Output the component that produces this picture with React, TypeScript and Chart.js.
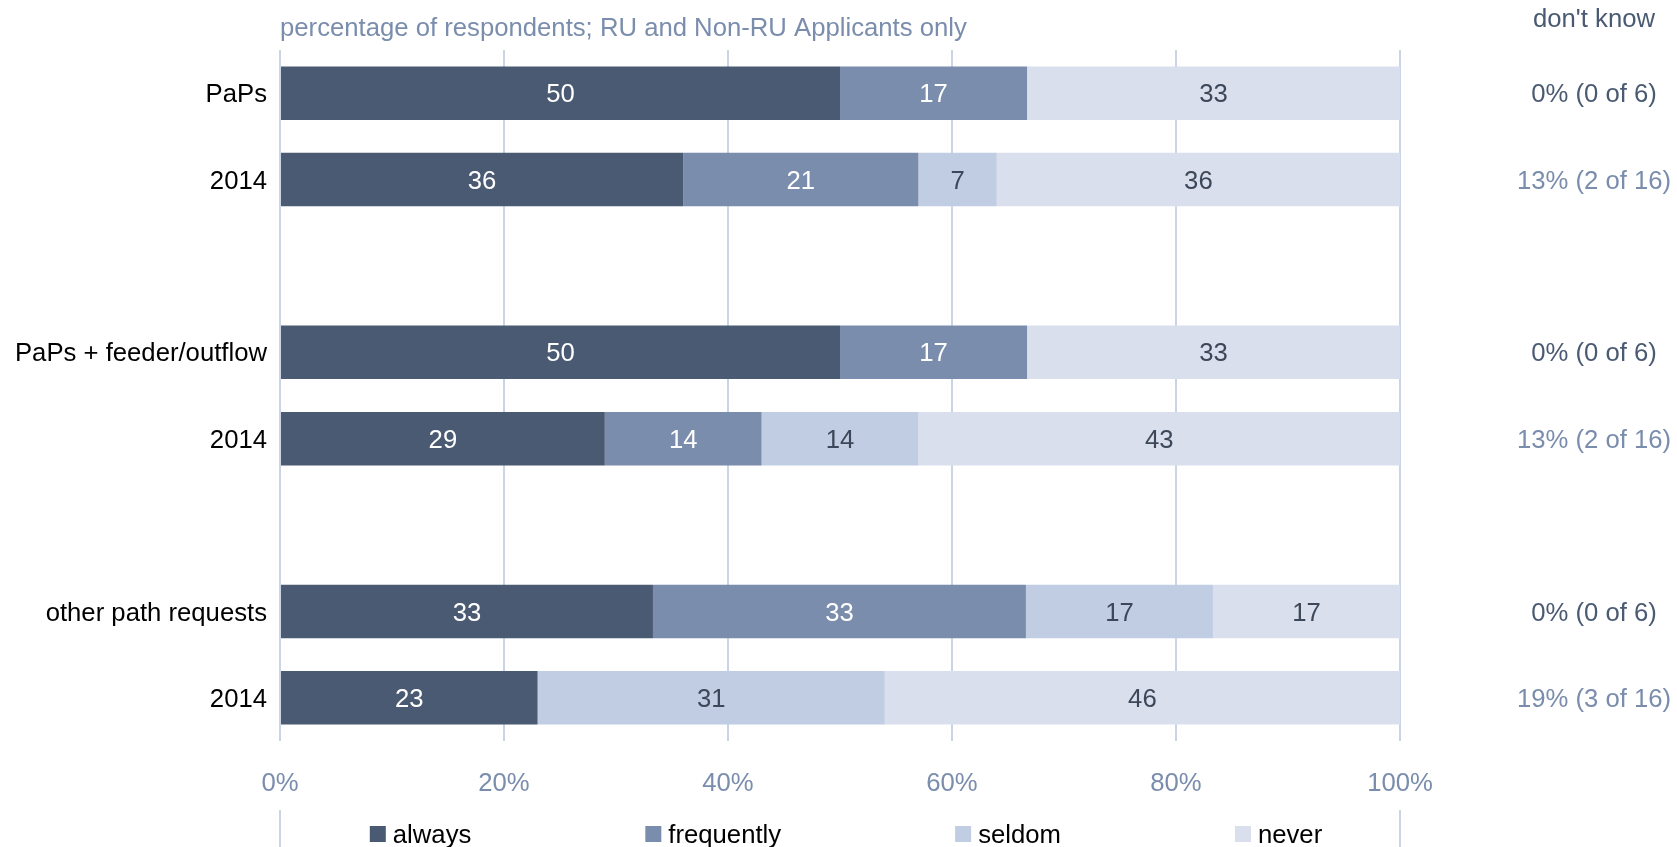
import React, { useEffect, useRef } from "react";
import { Chart, registerables } from "chart.js";

Chart.register(...registerables);

const categories = ["PaPs", "2014", "", "PaPs + feeder/outflow", "2014", "", "other path requests", "2014"];
const seriesNames = ["always", "frequently", "seldom", "never"];
const always = [50, 36, null, 50, 29, null, 33.3, 23];
const frequently = [16.7, 21, null, 16.7, 14, null, 33.3, 0];
const seldom = [0, 7, null, 0, 14, null, 16.7, 31];
const never = [33.3, 36, null, 33.3, 43, null, 16.7, 46];
const dontKnow = ["0% (0 of 6)", "13% (2 of 16)", "", "0% (0 of 6)", "13% (2 of 16)", "", "0% (0 of 6)", "19% (3 of 16)"];
const dontKnowIsPrior = [false, true, false, false, true, false, false, true];
const xTicks = [0, 20, 40, 60, 80, 100];
const titleText = "percentage of respondents; RU and Non-RU Applicants only";
const dontKnowTitle = "don't know";

const COLORS = ["#4a5a73", "#7a8dad", "#c0cde3", "#d9dfec"];
const DARK = "#4a5a73";
const MID = "#7a8dad";
const GRID = "#c9d4e7";
const FONT = "'Liberation Sans', Arial, sans-serif";
const FS = 25.7;

const overlay = {
  id: "overlay",
  afterDatasetsDraw(chart: any) {
    const ctx = chart.ctx;
    const area = chart.chartArea;
    const xs = chart.scales.x;
    const ys = chart.scales.y;
    ctx.save();
    ctx.font = `${FS}px ${FONT}`;
    ctx.textAlign = "center";
    ctx.textBaseline = "middle";
    // data labels
    chart.data.datasets.forEach((ds: any, i: number) => {
      const meta = chart.getDatasetMeta(i);
      meta.data.forEach((bar: any, j: number) => {
        const v = ds.data[j];
        if (!v) return;
        const p = bar.getProps(["x", "y", "base"], true);
        ctx.fillStyle = i < 2 ? "#ffffff" : "#3c4759";
        ctx.fillText(String(Math.round(v)), (p.x + p.base) / 2, p.y + 2);
      });
    });
    // category labels
    ctx.textAlign = "right";
    ctx.fillStyle = "#000000";
    (chart.data.labels as string[]).forEach((t, j) => {
      if (!t) return;
      ctx.fillText(t, area.left - 13, ys.getPixelForValue(j) + 2);
    });
    // don't know column
    ctx.textAlign = "center";
    const dkX = area.right + 194;
    ctx.fillStyle = DARK;
    ctx.fillText(dontKnowTitle, dkX, 20);
    dontKnow.forEach((t, j) => {
      if (!t) return;
      ctx.fillStyle = dontKnowIsPrior[j] ? MID : DARK;
      ctx.fillText(t, dkX, ys.getPixelForValue(j) + 2);
    });
    // title
    ctx.textAlign = "left";
    ctx.fillStyle = MID;
    ctx.fillText(titleText, area.left, 29);
    // lower lines at 0% and 100%
    ctx.strokeStyle = GRID;
    ctx.lineWidth = 2;
    [0, 100].forEach((v) => {
      const x = Math.round(xs.getPixelForValue(v));
      ctx.beginPath();
      ctx.moveTo(x, 810);
      ctx.lineTo(x, chart.height);
      ctx.stroke();
    });
    // legend
    const box = 16;
    const gapBox = 7;
    const gap = 174;
    const widths = seriesNames.map((n) => box + gapBox + ctx.measureText(n).width);
    const total = widths.reduce((a, b) => a + b, 0) + gap * (seriesNames.length - 1);
    let x = (area.left + area.right) / 2 - total / 2 + 6;
    const ly = 834;
    seriesNames.forEach((n, i) => {
      ctx.fillStyle = COLORS[i];
      ctx.fillRect(x, ly - box / 2, box, box);
      ctx.fillStyle = "#000000";
      ctx.textAlign = "left";
      ctx.fillText(n, x + box + gapBox, ly + 2);
      x += widths[i] + gap;
    });
    ctx.restore();
  },
};

export default function App() {
  const ref = useRef<HTMLCanvasElement | null>(null);
  useEffect(() => {
    document.body.style.margin = "0";
    const data = [always, frequently, seldom, never];
    const chart = new Chart(ref.current as HTMLCanvasElement, {
      type: "bar",
      data: {
        labels: categories,
        datasets: seriesNames.map((n, i) => ({
          label: n,
          data: data[i] as any,
          backgroundColor: COLORS[i],
          borderWidth: 0,
          barPercentage: 0.62,
          categoryPercentage: 1,
        })),
      },
      options: {
        indexAxis: "y",
        responsive: false,
        animation: false,
        devicePixelRatio: 1,
        layout: { padding: { top: 50, right: 277, bottom: 50, left: 0 } },
        plugins: { legend: { display: false }, tooltip: { enabled: false }, title: { display: false } },
        scales: {
          x: {
            stacked: true,
            min: 0,
            max: 100,
            afterBuildTicks: (s: any) => {
              s.ticks = xTicks.map((v) => ({ value: v }));
            },
            afterFit: (s: any) => {
              s.height = 56;
            },
            grid: { color: GRID, lineWidth: 2, drawTicks: false },
            border: { display: false },
            ticks: {
              padding: 27,
              color: MID,
              font: { family: FONT, size: FS },
              callback: (v: any) => v + "%",
            },
          },
          y: {
            stacked: true,
            afterFit: (s: any) => {
              s.width = 280;
            },
            grid: { display: false, drawTicks: false },
            border: { display: false },
            ticks: { display: false },
          },
        },
      },
      plugins: [overlay],
    });
    return () => chart.destroy();
  }, []);
  return (
    <div style={{ width: 1677, height: 847 }}>
      <canvas ref={ref} width={1677} height={847} style={{ width: 1677, height: 847, display: "block" }} />
    </div>
  );
}
